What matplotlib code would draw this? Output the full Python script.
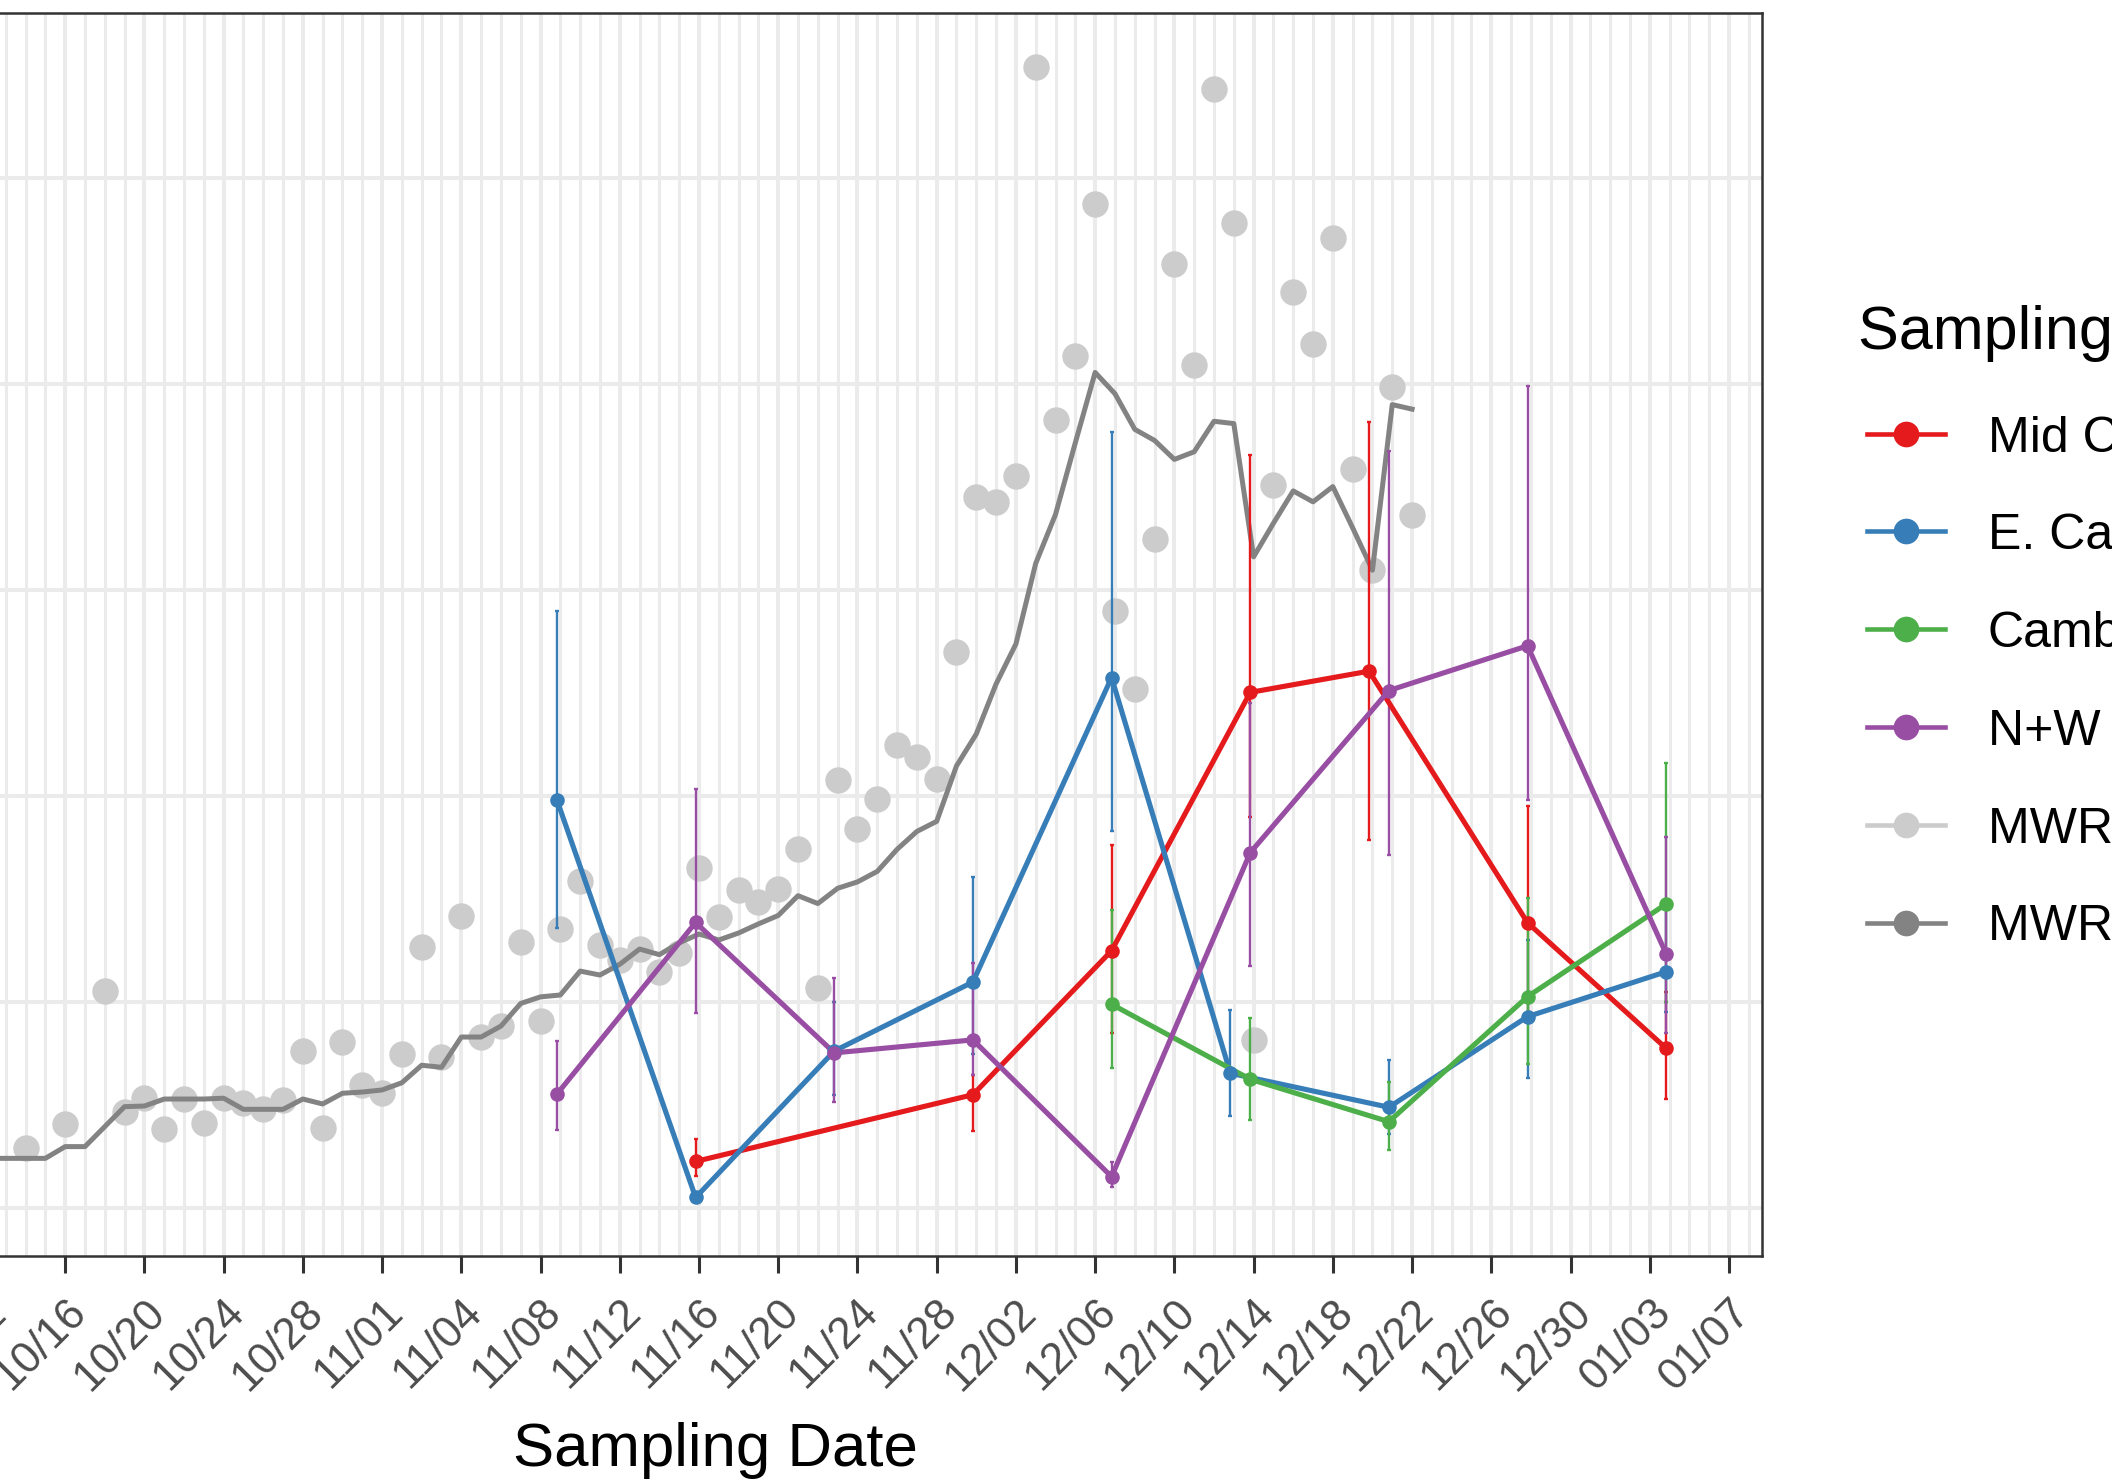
import numpy as np
import matplotlib
matplotlib.use('Agg')
import matplotlib.pyplot as plt

plt.rcParams['font.family'] = ['Liberation Sans', 'DejaVu Sans']

# x axis: days after 10/16 (major breaks every 4 days, labels as printed)
tick_day = np.arange(-4, 85, 4)
tick_labels = ['10/12', '10/16', '10/20', '10/24', '10/28', '11/01', '11/04', '11/08',
               '11/12', '11/16', '11/20', '11/24', '11/28', '12/02', '12/06', '12/10',
               '12/14', '12/18', '12/22', '12/26', '12/30', '01/03', '01/07']

# MWRA daily points
mwra_day = [-2, 0, 2, 3, 4, 5, 6, 7, 8, 9, 10, 11, 12, 13, 14, 15, 16, 17, 18, 19,
            20, 21, 22, 23, 24, 25, 26, 27, 28, 29, 30, 31, 32, 33, 34, 35, 36, 37,
            38, 39, 40, 41, 42, 43, 44, 45, 46, 47, 48, 49, 50, 51, 52, 53, 54, 55,
            56, 57, 58, 59, 60, 61, 62, 63, 64, 65, 66, 67, 68]
mwra_val = [0.293, 0.406, 1.053, 0.465, 0.533, 0.382, 0.529, 0.414, 0.533, 0.508,
            0.482, 0.524, 0.762, 0.390, 0.806, 0.599, 0.557, 0.746, 1.268, 0.734,
            1.417, 0.830, 0.885, 1.290, 0.908, 1.355, 1.585, 1.275, 1.206, 1.257,
            1.146, 1.240, 1.651, 1.413, 1.544, 1.485, 1.547, 1.743, 1.070, 2.076,
            1.838, 1.985, 2.250, 2.189, 2.084, 2.701, 3.450, 3.428, 3.552, 5.538,
            3.823, 4.138, 4.876, 2.900, 2.521, 3.248, 4.583, 4.090, 5.430, 4.783,
            0.816, 3.509, 4.447, 4.192, 4.707, 3.589, 3.096, 3.984, 3.363]

# MWRA smoothed line
avg_day = list(range(-4, 69))
avg_val = [0.241, 0.241, 0.241, 0.241, 0.298, 0.298, 0.395, 0.492, 0.495, 0.529,
           0.529, 0.529, 0.533, 0.479, 0.479, 0.479, 0.529, 0.505, 0.557, 0.563,
           0.573, 0.608, 0.693, 0.683, 0.830, 0.830, 0.883, 0.993, 1.025, 1.034,
           1.150, 1.131, 1.183, 1.257, 1.230, 1.287, 1.330, 1.301, 1.335, 1.379,
           1.420, 1.516, 1.478, 1.552, 1.583, 1.634, 1.741, 1.828, 1.877, 2.146,
           2.301, 2.544, 2.738, 3.129, 3.367, 3.715, 4.056, 3.953, 3.780, 3.726,
           3.634, 3.671, 3.819, 3.808, 3.161, 3.324, 3.481, 3.428, 3.502, 3.302,
           3.096, 3.900, 3.878]

# sampling sites
mid_day = [31.83, 45.83, 52.83, 59.83, 65.83, 73.83, 80.83]
mid_val = [0.226, 0.550, 1.249, 2.503, 2.606, 1.385, 0.775]
mid_lo = [0.155, 0.372, 0.85, 1.90, 1.786, 0.95, 0.528]
mid_hi = [0.337, 0.646, 1.76, 3.656, 3.814, 1.95, 1.05]

east_day = [24.83, 31.83, 38.83, 45.83, 52.83, 58.83, 66.83, 73.83, 80.83]
east_val = [1.98, 0.051, 0.762, 1.097, 2.575, 0.654, 0.489, 0.929, 1.147]
east_lo = [1.357, 0.03, 0.55, 0.75, 1.83, 0.447, 0.36, 0.63, 0.95]
east_hi = [2.896, 0.07, 1.0, 1.607, 3.765, 0.961, 0.718, 1.30, 1.45]

camb_day = [52.83, 59.83, 66.83, 73.83, 80.83]
camb_val = [0.989, 0.625, 0.419, 1.026, 1.476]
camb_lo = [0.678, 0.427, 0.28, 0.70, 1.0]
camb_hi = [1.447, 0.921, 0.613, 1.503, 2.158]

nw_day = [24.83, 31.83, 38.83, 45.83, 52.83, 59.83, 66.83, 73.83, 80.83]
nw_val = [0.553, 1.386, 0.753, 0.816, 0.152, 1.725, 2.512, 2.729, 1.233]
nw_lo = [0.378, 0.949, 0.516, 0.646, 0.103, 1.175, 1.714, 1.98, 0.85]
nw_hi = [0.81, 2.033, 1.115, 1.19, 0.225, 2.45, 3.675, 3.99, 1.80]

site_names = ['Mid Cambridge', 'E. Cambridge', 'Cambridgeport', 'N+W Cambridge']
site_colors = ['#E41A1C', '#377EB8', '#4DAF4A', '#984EA3']
sites = [(mid_day, mid_val, mid_lo, mid_hi),
         (east_day, east_val, east_lo, east_hi),
         (camb_day, camb_val, camb_lo, camb_hi),
         (nw_day, nw_val, nw_lo, nw_hi)]

mwra_names = ['MWRA Daily', 'MWRA 7-day Average']
mwra_colors = ['#CCCCCC', '#838383']

W, H = 2112, 1480
fig = plt.figure(figsize=(W / 100, H / 100), dpi=100)
# panel runs past the left edge of the picture (cropped)
ax = fig.add_axes([-331 / W, 224 / H, 2093 / W, 1243 / H])

ax.plot(mwra_day, mwra_val, 'o', ms=19, color=mwra_colors[0], mec='none', zorder=2)
ax.plot(avg_day, avg_val, color=mwra_colors[1], lw=3.6, solid_joinstyle='round', zorder=3)

for (d, v, lo, hi), c in zip(sites, site_colors):
    v = np.array(v)
    err = [v - np.array(lo), np.array(hi) - v]
    ax.errorbar(d, v, yerr=err, fmt='none', ecolor=c, elinewidth=1.7,
                capsize=1.2, capthick=1.7, zorder=4)
for (d, v, lo, hi), c in zip(sites, site_colors):
    ax.plot(d, v, color=c, lw=3.7, solid_joinstyle='round', zorder=5)
for (d, v, lo, hi), c in zip(sites, site_colors):
    ax.plot(d, v, 'o', ms=10.5, color=c, mec='none', zorder=6)

ax.set_xlim(-19.668, 85.667)
ax.set_ylim(-0.233, 5.801)
ax.set_xticks(tick_day)
ax.set_xticklabels(tick_labels)
ax.set_xticks(np.arange(-20, 86), minor=True)
ax.set_yticks(np.arange(0, 6))
ax.set_yticklabels([])
ax.tick_params(axis='x', which='major', length=12.5, width=2.2, color='#333333',
               pad=13, labelsize=31.5, labelcolor='#4D4D4D')
ax.tick_params(axis='x', which='minor', length=0)
ax.tick_params(axis='y', length=0)
for lab in ax.get_xticklabels():
    lab.set_rotation(45)
    lab.set_ha('right')
    lab.set_rotation_mode('anchor')

ax.set_axisbelow(True)
ax.grid(which='major', color='#EBEBEB', lw=2.9)
ax.grid(which='minor', axis='x', color='#EBEBEB', lw=2.2)
for sp in ax.spines.values():
    sp.set_color('#333333')
    sp.set_linewidth(1.8)

ax.set_xlabel('Sampling Date', fontsize=44.5)
ax.xaxis.set_label_coords(0.5, -0.169)
ax.xaxis.label.set_va('baseline')

# legend, drawn in pixel coordinates
lax = fig.add_axes([0, 0, 1, 1])
lax.set_xlim(0, W)
lax.set_ylim(H, 0)
lax.axis('off')
lax.text(1858, 349, 'Sampling Location', fontsize=44, va='baseline', ha='left')
names = site_names + mwra_names
colors = site_colors + mwra_colors
for i, (n, c) in enumerate(zip(names, colors)):
    y = 433.5 + 97.8 * i
    lax.plot([1867, 1945], [y, y], color=c, lw=3.3)
    lax.plot([1906], [y], 'o', ms=18.5, color=c, mec='none')
    lax.text(1988, y + 18, n, fontsize=36, va='baseline', ha='left')

fig.savefig('out.png', dpi=100)
